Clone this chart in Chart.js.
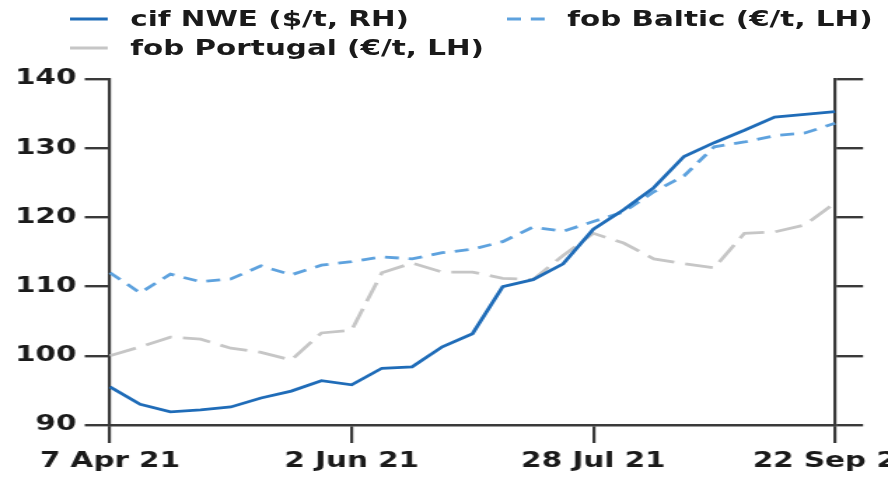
<!DOCTYPE html>
<html>
<head>
<meta charset="utf-8">
<script src="https://cdn.jsdelivr.net/npm/chart.js@4.4.1/dist/chart.umd.min.js"></script>
<style>
  html, body { margin: 0; padding: 0; background: #fff; overflow: hidden; }
  /* the reference is stretched sideways, so draw narrow and widen the whole box */
  #wrap { position: absolute; left: 0; top: 0; width: 634px; height: 481px;
          transform: scaleX(1.4006); transform-origin: 0 0; }
  #c { position: absolute; left: 0; top: 0; }
  .item { position: absolute; height: 24px; display: flex; align-items: center;
          font: bold 21px "DejaVu Sans", sans-serif; color: #1a1a1a; white-space: nowrap; }
  .item svg { margin-right: 16px; }
</style>
</head>
<body>
<div id="wrap">
  <canvas id="c" width="634" height="481"></canvas>
  <div id="legend"></div>
</div>
<script>
var weeks = ['7 Apr 21', '14 Apr 21', '21 Apr 21', '28 Apr 21', '5 May 21', '12 May 21', '19 May 21',
    '26 May 21', '2 Jun 21', '9 Jun 21', '16 Jun 21', '23 Jun 21', '30 Jun 21', '7 Jul 21', '14 Jul 21',
    '21 Jul 21', '28 Jul 21', '4 Aug 21', '11 Aug 21', '18 Aug 21', '25 Aug 21', '1 Sep 21', '8 Sep 21',
    '15 Sep 21', '22 Sep 21'];
var tickDates = ['7 Apr 21', '2 Jun 21', '28 Jul 21', '22 Sep 21'];

var cifNWE = [95.5, 93.0, 91.9, 92.2, 92.6, 93.9, 94.9, 96.4, 95.8, 98.2, 98.4, 101.3, 103.2,
    110.0, 111.0, 113.3, 118.3, 121.1, 124.3, 128.8, 130.8, 132.6, 134.5, 134.9, 135.3];
var fobBaltic = [112.0, 109.1, 111.8, 110.7, 111.1, 113.0, 111.7, 113.1, 113.6, 114.3, 114.0, 114.9, 115.4,
    116.5, 118.6, 118.0, 119.4, 120.8, 123.7, 126.0, 130.2, 130.9, 131.8, 132.2, 133.6];
var fobPortugal = [100.0, 101.3, 102.7, 102.4, 101.1, 100.5, 99.4, 103.3, 103.7, 112.0, 113.4, 112.1, 112.1,
    111.2, 111.0, 114.5, 117.7, 116.3, 114.0, 113.3, 112.7, 117.7, 117.9, 118.9, 122.1];

var seriesNames = ['cif NWE ($/t, RH)', 'fob Baltic (\u20ac/t, LH)', 'fob Portugal (\u20ac/t, LH)'];
var yMin = 90, yMax = 140, yStep = 10;

var axisColor = '#3a3a3a';
var textColor = '#1a1a1a';
var tickFont = { family: 'DejaVu Sans', size: 21, weight: 'bold' };

var datasets = [
    { label: seriesNames[0], data: cifNWE, yAxisID: 'y2', borderColor: '#1f6cb8', borderWidth: 2.8, borderDash: [] },
    { label: seriesNames[1], data: fobBaltic, yAxisID: 'y', borderColor: '#5ea2de', borderWidth: 2.8, borderDash: [10, 7] },
    { label: seriesNames[2], data: fobPortugal, yAxisID: 'y', borderColor: '#c6c6c6', borderWidth: 2.8, borderDash: [20, 8] }
];
datasets.forEach(function(d) {
    d.pointRadius = 0;
    d.tension = 0;
    d.fill = false;
});

// legend as html, laid out like the reference (two columns, second row below)
var legendPos = [[50, 7], [362, 7], [50, 36]];
var legendDash = ['none', '10 7', 'none'];
var legend = document.getElementById('legend');
for (var i = 0; i < datasets.length; i++) {
    var d = datasets[i];
    var el = document.createElement('div');
    el.className = 'item';
    el.style.left = legendPos[i][0] + 'px';
    el.style.top = legendPos[i][1] + 'px';
    el.innerHTML = '<svg width="27" height="6"><line x1="0" y1="3" x2="27" y2="3" stroke="' + d.borderColor +
        '" stroke-width="3" stroke-dasharray="' + legendDash[i] + '"/></svg>';
    var span = document.createElement('span');
    span.textContent = d.label;
    el.appendChild(span);
    legend.appendChild(el);
}

function yAxis(side, width, tickLen, showLabels) {
    return {
        position: side,
        min: yMin,
        max: yMax,
        ticks: { stepSize: yStep, display: showLabels, color: textColor, font: tickFont, padding: 6 },
        grid: { drawOnChartArea: false, drawTicks: true, tickLength: tickLen, color: axisColor, lineWidth: 2.4 },
        border: { display: true, color: axisColor, width: 2.2 },
        afterFit: function(axis) { axis.width = width; }
    };
}

var ctx = document.getElementById('c').getContext('2d');
var chart = new Chart(ctx, {
    type: 'line',
    data: { labels: weeks, datasets: datasets },
    options: {
        responsive: false,
        animation: false,
        layout: { padding: { left: 0, right: 0, top: 79, bottom: 0 } },
        plugins: { legend: { display: false }, tooltip: { enabled: false } },
        scales: {
            x: {
                offset: false,
                ticks: { autoSkip: false, maxRotation: 0, color: textColor, font: tickFont, padding: 6 },
                grid: { drawOnChartArea: false, drawTicks: true, tickLength: 18, color: axisColor, lineWidth: 2.2 },
                border: { display: true, color: axisColor, width: 2.4 },
                afterBuildTicks: function(axis) {
                    axis.ticks = axis.ticks.filter(function(t) {
                        return tickDates.indexOf(weeks[t.value]) >= 0;
                    });
                },
                afterFit: function(axis) {
                    axis.height = 56;
                    axis.paddingLeft = 0;
                    axis.paddingRight = 0;
                }
            },
            y: yAxis('left', 78.5, 18, true),
            y2: yAxis('right', 37.8, 20, false)
        }
    }
});
</script>
</body>
</html>
